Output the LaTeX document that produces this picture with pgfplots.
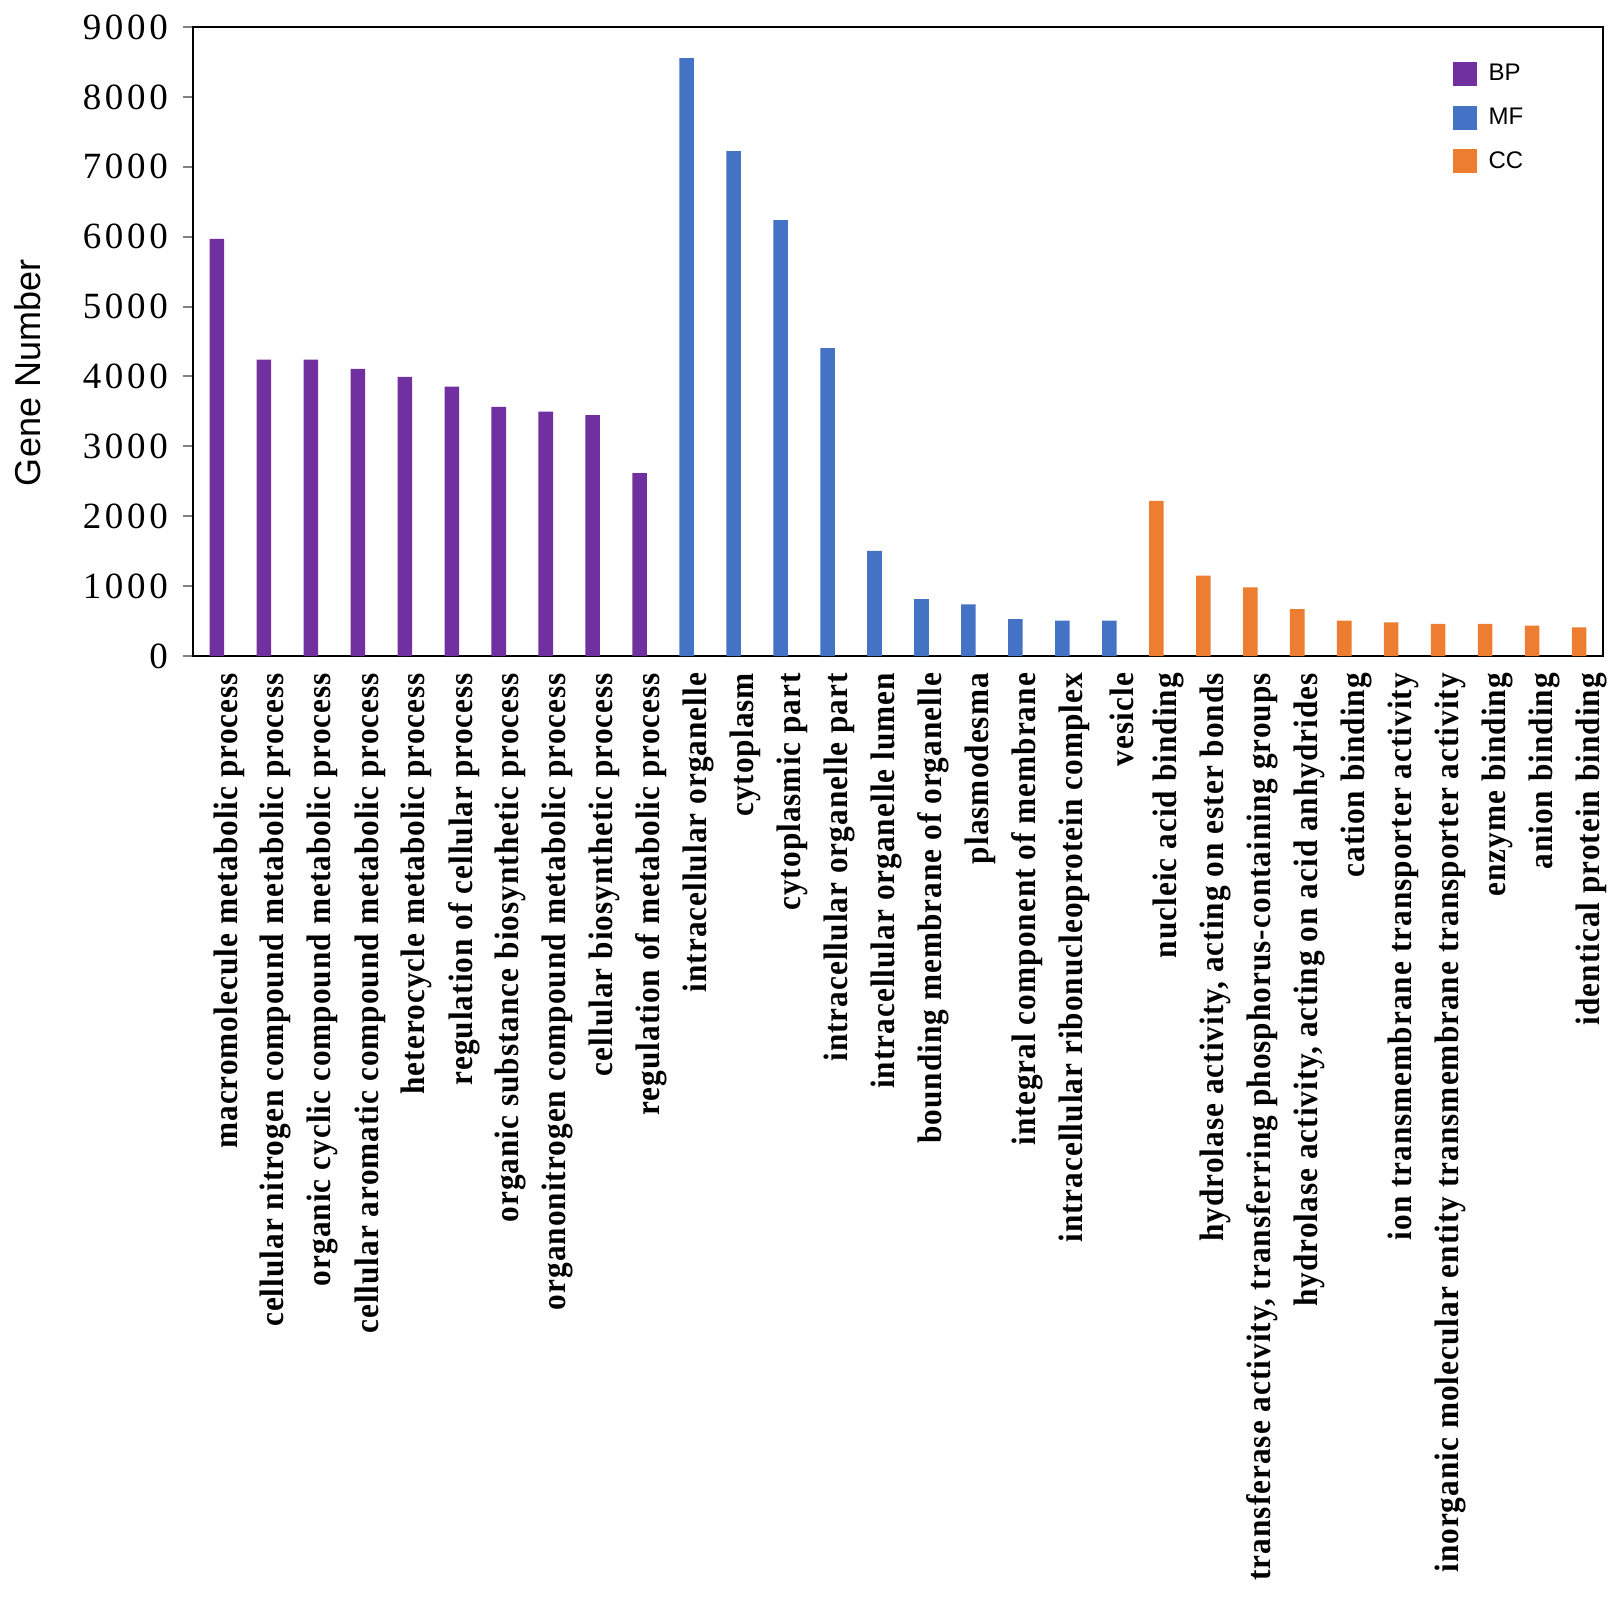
\documentclass[border=0pt]{standalone}
\usepackage{fontspec}
\setmainfont{Liberation Serif}
\newfontfamily\lblfont{Liberation Serif}[FakeStretch=0.92, LetterSpace=3]
\newfontfamily\tickfont{Liberation Serif}[LetterSpace=10]
\newfontfamily\sansfont{Liberation Sans}
\usepackage{pgfplots}
\pgfplotsset{compat=1.18}
\definecolor{bpcol}{HTML}{7030A0}
\definecolor{mfcol}{HTML}{4472C4}
\definecolor{cccol}{HTML}{ED7D31}
\begin{document}
\begin{tikzpicture}
\begin{axis}[
  scale only axis,
  width=705pt, height=314.5pt,
  xmin=-0.51, xmax=29.51, ymin=0, ymax=9000,
  axis line style={line width=1pt},
  ybar, bar width=0.31,
  xtick={0,...,29},
  xtick style={draw=none},
  xticklabels={{macromolecule metabolic process},{cellular nitrogen compound metabolic process},{organic cyclic compound metabolic process},{cellular aromatic compound metabolic process},{heterocycle metabolic process},{regulation of cellular process},{organic substance biosynthetic process},{organonitrogen compound metabolic process},{cellular biosynthetic process},{regulation of metabolic process},{intracellular organelle},{cytoplasm},{cytoplasmic part},{intracellular organelle part},{intracellular organelle lumen},{bounding membrane of organelle},{plasmodesma},{integral component of membrane},{intracellular ribonucleoprotein complex},{vesicle},{nucleic acid binding},{hydrolase activity, acting on ester bonds},{transferase activity, transferring phosphorus-containing groups},{hydrolase activity, acting on acid anhydrides},{cation binding},{ion transmembrane transporter activity},{inorganic molecular entity transmembrane transporter activity},{enzyme binding},{anion binding},{identical protein binding}},
  xticklabel style={rotate=90, anchor=east, yshift=-6pt, font=\lblfont\bfseries\fontsize{17}{20}\selectfont},
  ytick={0,1000,...,9000},
  ytick pos=left,
  tick align=outside,
  major tick length=5pt,
  ytick style={line width=1pt},
  /pgf/number format/assume math mode=true,
  /pgf/number format/set thousands separator={},
  yticklabel style={font=\tickfont\fontsize{18.5}{21}\selectfont, xshift=-4pt},
  ylabel={Gene Number},
  ylabel style={font=\sansfont\fontsize{18}{21}\selectfont, at={(axis description cs:-0.117,0.45)}, anchor=center},
  legend image code/.code={\fill[#1] (0pt,-6pt) rectangle (12pt,6pt);},
  legend style={draw=none, fill=none, at={(0.893,0.9475)}, anchor=north west,
    font=\sansfont\fontsize{12}{14}\selectfont, row sep=8pt, column sep=4pt, inner sep=0pt,
    cells={anchor=west}},
  legend cell align=left,
]
\addplot[fill=bpcol, draw=none, bar shift=0pt] coordinates {
(0,5970) (1,4240) (2,4240) (3,4110) (4,3995) (5,3855) (6,3565) (7,3495) (8,3445) (9,2615)};
\addlegendentry{BP}
\addplot[fill=mfcol, draw=none, bar shift=0pt] coordinates {
(10,8555) (11,7225) (12,6235) (13,4405) (14,1505) (15,814) (16,738) (17,529) (18,505) (19,505)};
\addlegendentry{MF}
\addplot[fill=cccol, draw=none, bar shift=0pt] coordinates {
(20,2220) (21,1150) (22,981) (23,671) (24,505) (25,481) (26,460) (27,460) (28,436) (29,408)};
\addlegendentry{CC}
\end{axis}
\pgfresetboundingbox
\path[use as bounding box] (-96.5pt,-471pt) rectangle (713.5pt,328pt);
\end{tikzpicture}
\end{document}
